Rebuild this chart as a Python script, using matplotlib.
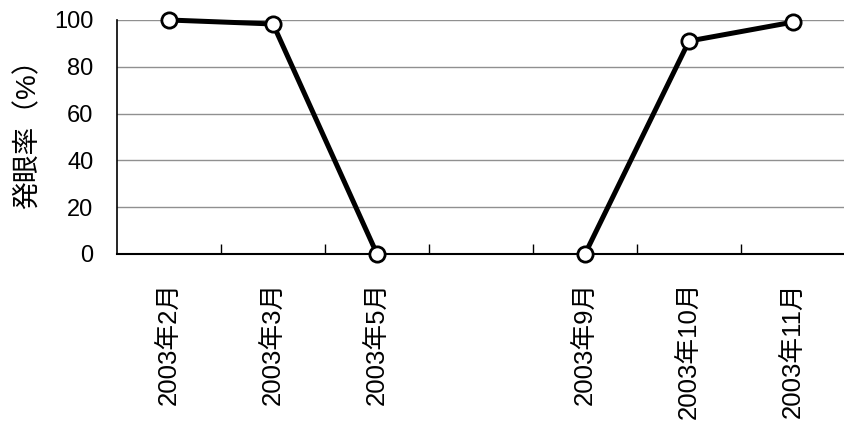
import matplotlib
matplotlib.use("Agg")
import matplotlib.pyplot as plt
import numpy as np

plt.rcParams['font.family'] = ['Liberation Sans', 'Noto Sans CJK JP', 'DejaVu Sans']

# categories (one month without data in between, label left blank)
months = ["2003年2月", "2003年3月", "2003年5月", "", "2003年9月", "2003年10月", "2003年11月"]
rate = [100, 98.3, 0, np.nan, 0, 91, 99.1]
yticks = [0, 20, 40, 60, 80, 100]

fig = plt.figure(figsize=(8.45, 4.3), dpi=100)
ax = fig.add_axes([117/845, 1-254/430, 1-117/845, 234/430])

x = np.arange(len(months))
ax.plot(x, rate, color="black", lw=3.6, marker="o", ms=11,
        mfc="white", mec="black", mew=2, clip_on=False, zorder=3)

ax.set_xlim(-0.5, len(months)-0.5)
ax.set_ylim(0, 100)
ax.set_yticks(yticks)
ax.set_yticklabels([str(v) for v in yticks], fontsize=17)
ax.tick_params(axis="y", length=0, pad=17)
ax.yaxis.grid(True, color="#909090", lw=1)
ax.set_axisbelow(True)

ax.set_xticks(x)
ax.set_xticklabels(months, rotation=90, fontsize=18.5, va="top")
ax.tick_params(axis="x", which="major", length=0, pad=20)
ax.set_xticks(np.arange(0.5, len(months)-1), minor=True)
ax.tick_params(axis="x", which="minor", direction="in", length=7, width=1, color="black")

for s in ["top", "right"]:
    ax.spines[s].set_visible(False)
ax.spines["left"].set_color("black")
ax.spines["bottom"].set_color("black")
ax.spines["left"].set_linewidth(1.2)
ax.spines["bottom"].set_linewidth(1.5)

ax.set_ylabel("発眼率（%）", fontsize=20)
ax.yaxis.set_label_coords(-0.104, 0.54)

fig.savefig("out.png", dpi=100)
